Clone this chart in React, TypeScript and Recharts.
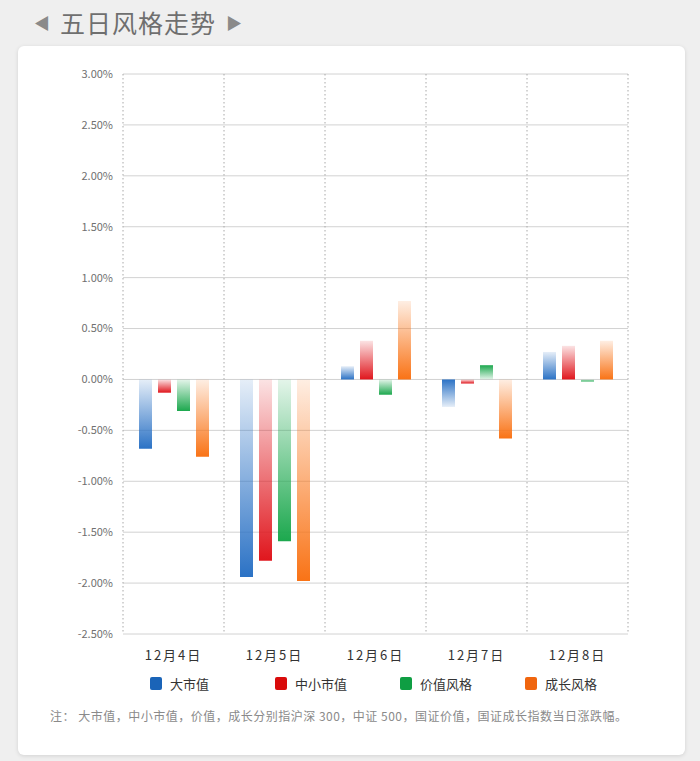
import { BarChart, Bar, XAxis, YAxis, CartesianGrid, Cell } from 'recharts';

const dates = ['12月4日', '12月5日', '12月6日', '12月7日', '12月8日'];
const largeCap = [-0.68, -1.94, 0.13, -0.27, 0.27];
const smallMidCap = [-0.13, -1.78, 0.38, -0.04, 0.33];
const valueStyle = [-0.31, -1.59, -0.15, 0.14, -0.02];
const growthStyle = [-0.76, -1.98, 0.77, -0.58, 0.38];
const yTicks = [3, 2.5, 2, 1.5, 1, 0.5, 0, -0.5, -1, -1.5, -2, -2.5];

const FONT = '"Noto Sans CJK SC", "Noto Sans", sans-serif';

const series = [
  { key: 'large', name: '大市值', values: largeCap, color: '#2b72c5', legend: '#1a64b8' },
  { key: 'small', name: '中小市值', values: smallMidCap, color: '#e0161d', legend: '#d90b0b' },
  { key: 'value', name: '价值风格', values: valueStyle, color: '#1ca84e', legend: '#0f9e43' },
  { key: 'growth', name: '成长风格', values: growthStyle, color: '#f97316', legend: '#f0650e' },
];

// bars whose gradient runs dark at the top instead of light
const darkTop: Record<string, string[]> = {
  large: ['12月7日'],
  value: ['12月7日'],
};

const data = dates.map((date, i) => {
  const row: Record<string, string | number> = { date };
  series.forEach((s) => {
    row[s.key] = s.values[i];
  });
  return row;
});

// eslint-disable-next-line @typescript-eslint/no-explicit-any
function bandEdges({ offset }: any) {
  return dates.map((_, i) => offset.left + (i * offset.width) / dates.length).concat(offset.left + offset.width);
}

export default function App() {
  return (
    <div
      style={{
        position: 'absolute',
        left: 0,
        top: 0,
        width: 700,
        height: 761,
        background: '#efefef',
        fontFamily: FONT,
        overflow: 'hidden',
      }}
    >
      <div
        style={{
          position: 'absolute',
          left: 34,
          top: 4,
          fontSize: 25,
          color: '#6f6f6f',
          display: 'flex',
          alignItems: 'center',
          gap: 10,
        }}
      >
        <span style={{ fontSize: 16, color: '#8a8a8a' }}>◀</span>
        <span style={{ letterSpacing: 1 }}>五日风格走势</span>
        <span style={{ fontSize: 16, color: '#8a8a8a' }}>▶</span>
      </div>
      <div
        style={{
          position: 'absolute',
          left: 18,
          top: 46,
          width: 667,
          height: 709,
          background: '#fff',
          borderRadius: 6,
          boxShadow: '0 1px 4px rgba(0,0,0,0.12)',
        }}
      />
      <div style={{ position: 'absolute', left: 0, top: 0 }}>
        <BarChart
          width={700}
          height={670}
          data={data}
          margin={{ top: 74, right: 72, left: 63, bottom: 6 }}
          barGap={6}
          style={{ fontFamily: FONT }}
        >
          <defs>
            {series.map((s) => (
              <linearGradient key={`${s.key}-lt`} id={`${s.key}-lt`} x1="0" y1="0" x2="0" y2="1">
                <stop offset="0%" stopColor={s.color} stopOpacity={0.12} />
                <stop offset="100%" stopColor={s.color} stopOpacity={1} />
              </linearGradient>
            ))}
            {series.map((s) => (
              <linearGradient key={`${s.key}-dt`} id={`${s.key}-dt`} x1="0" y1="0" x2="0" y2="1">
                <stop offset="0%" stopColor={s.color} stopOpacity={1} />
                <stop offset="100%" stopColor={s.color} stopOpacity={0.12} />
              </linearGradient>
            ))}
          </defs>
          <CartesianGrid vertical={false} stroke="#d2d2d2" />
          <CartesianGrid
            horizontal={false}
            stroke="#a8a8a8"
            strokeDasharray="1.5 2.5"
            verticalCoordinatesGenerator={bandEdges}
          />
          <XAxis
            dataKey="date"
            height={30}
            axisLine={false}
            tickLine={false}
            tickMargin={11}
            tick={{ fontSize: 13, fill: '#333', letterSpacing: 2 }}
          />
          <YAxis
            width={60}
            domain={[-2.5, 3]}
            ticks={yTicks}
            interval={0}
            axisLine={false}
            tickLine={false}
            tickMargin={4}
            tick={{ fontSize: 11, fill: '#707070' }}
            tickFormatter={(v: number) => `${v.toFixed(2)}%`}
          />
          {series.map((s) => (
            <Bar key={s.key} dataKey={s.key} name={s.name} barSize={13} isAnimationActive={false}>
              {dates.map((d) => (
                <Cell
                  key={d}
                  fill={`url(#${s.key}-${(darkTop[s.key] || []).includes(d) ? 'dt' : 'lt'})`}
                />
              ))}
            </Bar>
          ))}
        </BarChart>
      </div>
      <div style={{ position: 'absolute', left: 150, top: 674, display: 'flex' }}>
        {series.map((s) => (
          <div key={s.key} style={{ width: 125, display: 'flex', alignItems: 'center', gap: 8 }}>
            <span
              style={{ width: 12, height: 13, borderRadius: 2, background: s.legend, display: 'inline-block' }}
            />
            <span style={{ fontSize: 13, color: '#333' }}>{s.name}</span>
          </div>
        ))}
      </div>
      <div
        style={{
          position: 'absolute',
          left: 50,
          top: 707,
          fontSize: 12,
          letterSpacing: 0.5,
          color: '#8a8a8a',
          whiteSpace: 'nowrap',
        }}
      >
        注：&nbsp;大市值，中小市值，价值，成长分别指沪深 300，中证 500，国证价值，国证成长指数当日涨跌幅。
      </div>
    </div>
  );
}
